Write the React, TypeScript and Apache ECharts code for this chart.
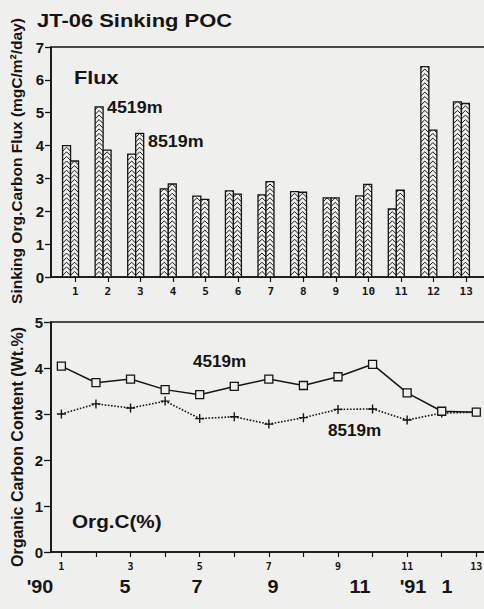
import React, { useEffect, useRef } from "react";
import * as echarts from "echarts";

// ---- data ----
const sampleNos = [1, 2, 3, 4, 5, 6, 7, 8, 9, 10, 11, 12, 13];
const flux4519 = [4.0, 5.18, 3.74, 2.68, 2.46, 2.62, 2.5, 2.6, 2.41, 2.47, 2.07, 6.4, 5.33];
const flux8519 = [3.53, 3.86, 4.37, 2.83, 2.36, 2.52, 2.9, 2.58, 2.41, 2.82, 2.64, 4.47, 5.28];
const orgC4519 = [4.04, 3.68, 3.76, 3.53, 3.42, 3.6, 3.76, 3.62, 3.81, 4.08, 3.46, 3.06, 3.04];
const orgC8519 = [3.0, 3.22, 3.13, 3.28, 2.9, 2.94, 2.78, 2.92, 3.1, 3.11, 2.87, 3.02, 3.04];
const orgCLabelNos = [1, 3, 5, 7, 9, 11, 13];
const monthLabels = ["'90", "5", "7", "9", "11", "'91", "1"];

const TITLE = "JT-06 Sinking POC";
const FLUX_AXIS_NAME = "Sinking Org.Carbon Flux (mgC/m\u00b2/day)";
const ORGC_AXIS_NAME = "Organic Carbon Content (Wt.%)";

// ---- styles / layout ----
const BG = "#efefed";
const INK = "#151515";
const SANS = "'Liberation Sans', Arial, Helvetica, sans-serif";
const MONO = "'DejaVu Sans Mono', 'Liberation Mono', monospace";
const monthX = [40, 125, 197, 273, 360, 413, 447];

function chevronBar(side: number) {
  return (params: any, api: any) => {
    const xv = api.value(0);
    const v = api.value(1);
    const top = api.coord([xv, v]);
    const base = api.coord([xv, 0]);
    const unit = api.size([1, 0])[0];
    const w = unit * 0.245;
    const x0 = side < 0 ? top[0] - w : top[0];
    const x1 = x0 + w;
    const yT = top[1];
    const yB = base[1];
    const xc = (x0 + x1) / 2;
    const h = w * 0.5;
    const period = 4.6;
    const children: any[] = [];
    children.push({
      type: "rect",
      shape: { x: x0, y: yT, width: w, height: yB - yT },
      style: { fill: BG, stroke: null },
    });
    const arm = (ya: number, xe: number) => {
      const tMin = Math.max(0, (yT - ya) / h);
      const tMax = Math.min(1, (yB - ya) / h);
      if (tMin >= tMax) return;
      children.push({
        type: "line",
        shape: {
          x1: xc + (xe - xc) * tMin,
          y1: ya + h * tMin,
          x2: xc + (xe - xc) * tMax,
          y2: ya + h * tMax,
        },
        style: { stroke: INK, lineWidth: 1 },
      });
    };
    for (let ya = yB - 1; ya + h > yT; ya -= period) {
      arm(ya, x0);
      arm(ya, x1);
    }
    children.push({
      type: "rect",
      shape: { x: x0, y: yT, width: w, height: yB - yT },
      style: { fill: null, stroke: INK, lineWidth: 1.3 },
    });
    return { type: "group", children };
  };
}

const plusPath =
  "path://M3.6,0h1.3v3.6h3.6v1.3h-3.6v3.6h-1.3v-3.6h-3.6v-1.3h3.6z";

export default function App() {
  const ref = useRef<HTMLDivElement>(null);

  useEffect(() => {
    if (!ref.current) return;
    const chart = echarts.init(ref.current, null, { renderer: "svg" });

    const txt = (
      text: string,
      x: number,
      y: number,
      size: number,
      opts: any = {}
    ) => ({
      type: "text",
      x,
      y,
      scaleX: opts.scaleX ?? 1,
      rotation: opts.rotation ?? 0,
      z: 100,
      style: {
        text,
        fill: INK,
        fontSize: size,
        fontFamily: SANS,
        fontWeight: opts.weight ?? "normal",
        textAlign: opts.align ?? "left",
        align: opts.align ?? "left",
        textVerticalAlign: "middle",
        verticalAlign: "middle",
      },
    });

    const graphics: any[] = [
      txt(TITLE, 37, 21, 18, { scaleX: 1.22, weight: "bold" }),
      txt(FLUX_AXIS_NAME, 16, 161, 15.5, { rotation: Math.PI / 2, align: "center", weight: "bold" }),
      txt(ORGC_AXIS_NAME, 17, 447, 16, { rotation: Math.PI / 2, align: "center", weight: "bold" }),
      txt("Flux", 74, 78, 18, { scaleX: 1.2, weight: "bold" }),
      txt("4519m", 107, 107, 17, { scaleX: 1.05, weight: "bold" }),
      txt("8519m", 148, 141, 17, { scaleX: 1.05, weight: "bold" }),
      txt("4519m", 193, 362, 16, { scaleX: 1.07, weight: "bold" }),
      txt("8519m", 328, 431, 16, { scaleX: 1.07, weight: "bold" }),
      txt("Org.C(%)", 72, 522, 18, { scaleX: 1.15, weight: "bold" }),
      ...monthLabels.map((m, i) => txt(m, monthX[i], 587, 18, { align: "center", scaleX: 1.1, weight: "bold" })),
    ];

    const axisLineStyle = { color: INK, width: 1.6 };

    chart.setOption({
      animation: false,
      backgroundColor: BG,
      graphic: graphics,
      grid: [
        {
          left: 51,
          top: 47,
          width: 443,
          height: 230,
          outerBoundsMode: "none",
          containLabel: false,
          show: true,
          borderColor: INK,
          borderWidth: 1.6,
          backgroundColor: "transparent",
        },
        {
          left: 51,
          top: 322,
          width: 442.6,
          height: 230,
          outerBoundsMode: "none",
          containLabel: false,
          show: true,
          borderColor: INK,
          borderWidth: 1.6,
          backgroundColor: "transparent",
        },
      ],
      xAxis: [
        {
          type: "value",
          gridIndex: 0,
          min: 0.4,
          max: 14,
          axisLine: { show: true, lineStyle: axisLineStyle },
          axisTick: { show: false },
          axisLabel: { show: false },
          splitLine: { show: false },
        },
        {
          type: "value",
          gridIndex: 0,
          position: "bottom",
          offset: 0,
          min: 0.255,
          max: 13.855,
          axisLine: { show: false },
          axisTick: {
            show: true,
            length: 5,
            customValues: sampleNos,
            lineStyle: { color: INK, width: 1.2 },
          },
          axisLabel: {
            show: true,
            customValues: sampleNos,
            margin: 9,
            color: INK,
            fontFamily: MONO,
            fontWeight: "bold",
            fontSize: 11,
          },
          splitLine: { show: false },
        },
        {
          type: "value",
          gridIndex: 1,
          min: 0.7,
          max: 13.5,
          axisLine: { show: true, lineStyle: axisLineStyle },
          axisTick: {
            show: true,
            length: 5,
            customValues: sampleNos,
            lineStyle: { color: INK, width: 1.2 },
          },
          axisLabel: {
            show: true,
            customValues: orgCLabelNos,
            margin: 9,
            color: INK,
            fontFamily: MONO,
            fontWeight: "bold",
            fontSize: 10,
          },
          splitLine: { show: false },
        },
      ],
      yAxis: [
        {
          type: "value",
          gridIndex: 0,
          min: 0,
          max: 7,
          interval: 1,
          axisLine: { show: true, lineStyle: axisLineStyle },
          axisTick: { show: true, length: 6, lineStyle: { color: INK, width: 1.3 } },
          axisLabel: {
            margin: 7,
            color: INK,
            fontFamily: SANS,
            fontWeight: "bold",
            fontSize: 15,
          },
          splitLine: { show: false },
        },
        {
          type: "value",
          gridIndex: 1,
          min: 0,
          max: 5,
          interval: 1,
          axisLine: { show: true, lineStyle: axisLineStyle },
          axisTick: { show: true, length: 7, lineStyle: { color: INK, width: 1.3 } },
          axisLabel: {
            margin: 8,
            color: INK,
            fontFamily: SANS,
            fontWeight: "bold",
            fontSize: 15,
          },
          splitLine: { show: false },
        },
      ],
      series: [
        {
          name: "Flux 4519m",
          type: "custom",
          xAxisIndex: 0,
          yAxisIndex: 0,
          renderItem: chevronBar(-1),
          encode: { x: 0, y: 1 },
          data: sampleNos.map((n, i) => [n, flux4519[i]]),
          z: 2,
        },
        {
          name: "Flux 8519m",
          type: "custom",
          xAxisIndex: 0,
          yAxisIndex: 0,
          renderItem: chevronBar(1),
          encode: { x: 0, y: 1 },
          data: sampleNos.map((n, i) => [n, flux8519[i]]),
          z: 2,
        },
        {
          name: "Org.C 8519m",
          type: "line",
          xAxisIndex: 2,
          yAxisIndex: 1,
          data: sampleNos.map((n, i) => [n, orgC8519[i]]),
          symbol: plusPath,
          symbolSize: 9,
          lineStyle: { color: INK, width: 1.6, type: "dotted" },
          itemStyle: { color: INK, borderWidth: 0 },
          z: 3,
        },
        {
          name: "Org.C 4519m",
          type: "line",
          xAxisIndex: 2,
          yAxisIndex: 1,
          data: sampleNos.map((n, i) => [n, orgC4519[i]]),
          symbol: "rect",
          symbolSize: 8,
          lineStyle: { color: INK, width: 1.5 },
          itemStyle: { color: BG, borderColor: INK, borderWidth: 1.3 },
          z: 4,
        },
      ],
    });

    return () => chart.dispose();
  }, []);

  return (
    <div
      ref={ref}
      style={{ position: "absolute", left: 0, top: 0, width: 484, height: 609 }}
    />
  );
}
